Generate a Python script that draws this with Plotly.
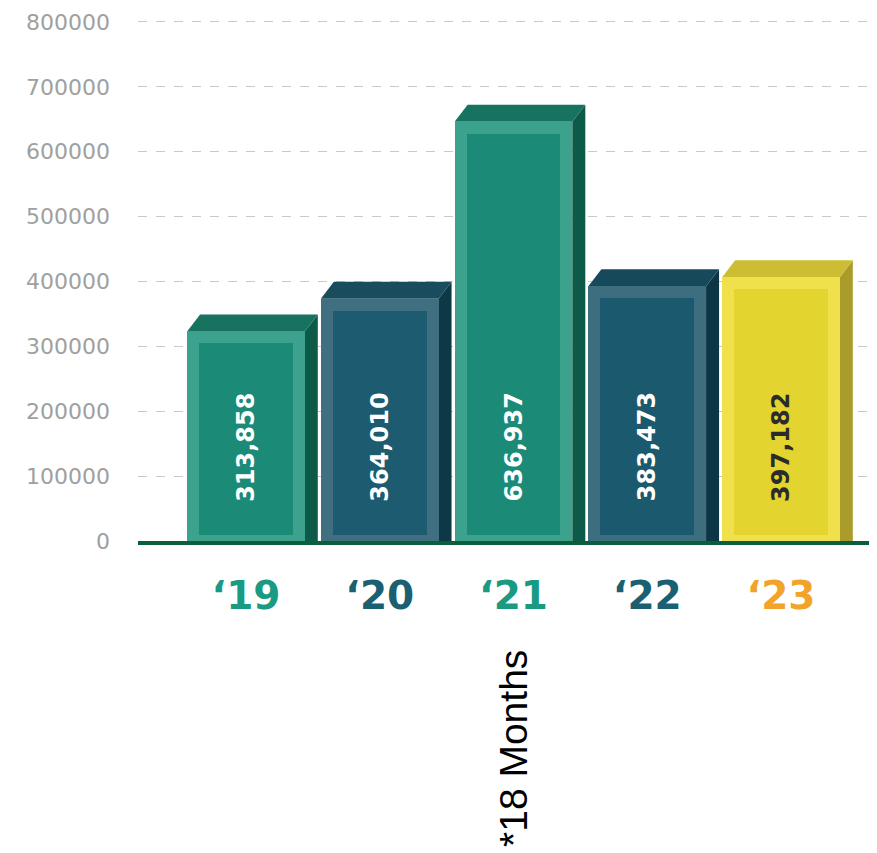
import plotly.graph_objects as go

# ---- data ----
years = ["\u201819", "\u201820", "\u201821", "\u201822", "\u201823"]
values = [313858, 364010, 636937, 383473, 397182]
value_labels = ["313,858", "364,010", "636,937", "383,473", "397,182"]
year_colors = ["#1a9a82", "#1b5f72", "#1a9a82", "#1b5f72", "#f2a42a"]
face_colors = ["#1b8a77", "#1c5b70", "#1b8a77", "#1a596e", "#e4d42f"]
bevel_colors = ["#3ca18d", "#3f6f81", "#3ca18d", "#3d6e80", "#efe04c"]
top_colors = ["#17735f", "#174d5d", "#17735f", "#164a5a", "#cdbd33"]
side_colors = ["#0e5a49", "#0d3947", "#0e5a49", "#0c3643", "#aa9c2a"]
label_text_colors = ["white", "white", "white", "white", "#2b2b2b"]
y_ticks = [0, 100000, 200000, 300000, 400000, 500000, 600000, 700000, 800000]
note_text = "*18 Months"

# ---- layout constants (page body has an 8px margin) ----
W, H = 869, 845
M_L, M_R, M_T, M_B = 130, 0, 11, 312
Y_TOP = 804600
X_RANGE = [-0.807, 4.718]
plot_h = H - M_T - M_B
plot_w = W - M_L - M_R
px_per_y = plot_h / Y_TOP
px_per_x = plot_w / (X_RANGE[1] - X_RANGE[0])

front_w = 0.88
line_w = 12
bar_w = front_w - line_w / px_per_x
extra_top = (line_w / 2) / px_per_y
dx = 13 / px_per_x
dy = 17 / px_per_y

xs = list(range(len(values)))

fig = go.Figure()
fig.add_trace(go.Bar(
    x=xs, y=values, width=bar_w,
    marker=dict(color=face_colors, line=dict(color=bevel_colors, width=line_w)),
    hoverinfo="skip", showlegend=False,
))

shapes = []
for i, v in enumerate(values):
    half = front_w / 2
    top = v + extra_top
    # side face
    shapes.append(dict(
        type="path", xref="x", yref="y", layer="between",
        path=f"M {i+half} 0 L {i+half+dx} 0 L {i+half+dx} {top+dy} L {i+half} {top} Z",
        fillcolor=side_colors[i], line=dict(width=0),
    ))
    # top face
    shapes.append(dict(
        type="path", xref="x", yref="y", layer="between",
        path=f"M {i-half} {top} L {i-half+dx} {top+dy} L {i+half+dx} {top+dy} L {i+half} {top} Z",
        fillcolor=top_colors[i], line=dict(width=0),
    ))

annotations = []
for i, lab in enumerate(value_labels):
    annotations.append(dict(
        x=i, y=145000, xref="x", yref="y", text=f"<b>{lab}</b>",
        textangle=-90, showarrow=False,
        font=dict(family="DejaVu Sans", size=24, color=label_text_colors[i]),
    ))
annotations.append(dict(
    x=2, y=-107 / plot_h, xref="x", yref="paper", text=note_text, textangle=-90,
    showarrow=False, yanchor="top",
    font=dict(family="Liberation Sans, Arial", size=39, color="black"),
))

ticktext = [f"<span style='color:{c}'><b>{t}</b></span>" for t, c in zip(years, year_colors)]

fig.update_layout(
    width=W, height=H,
    margin=dict(l=M_L, r=M_R, t=M_T, b=M_B),
    paper_bgcolor="white", plot_bgcolor="white",
    shapes=shapes, annotations=annotations,
    bargap=0,
    xaxis=dict(
        range=X_RANGE, tickvals=xs, ticktext=ticktext,
        showgrid=False, zeroline=False,
        showline=True, linecolor="#0b5e3a", linewidth=4,
        ticks="", ticklabelstandoff=17,
        tickfont=dict(family="DejaVu Sans", size=39),
    ),
    yaxis=dict(
        range=[0, Y_TOP], tickvals=y_ticks, ticktext=[str(t) for t in y_ticks],
        showgrid=True, gridcolor="#c9c9c9", griddash="dash", gridwidth=1,
        zeroline=False, showline=False, ticks="",
        ticklabelstandoff=27,
        tickfont=dict(family="DejaVu Sans", size=22, color="#a0a0a0"),
    ),
)

fig.write_html("out.html")
